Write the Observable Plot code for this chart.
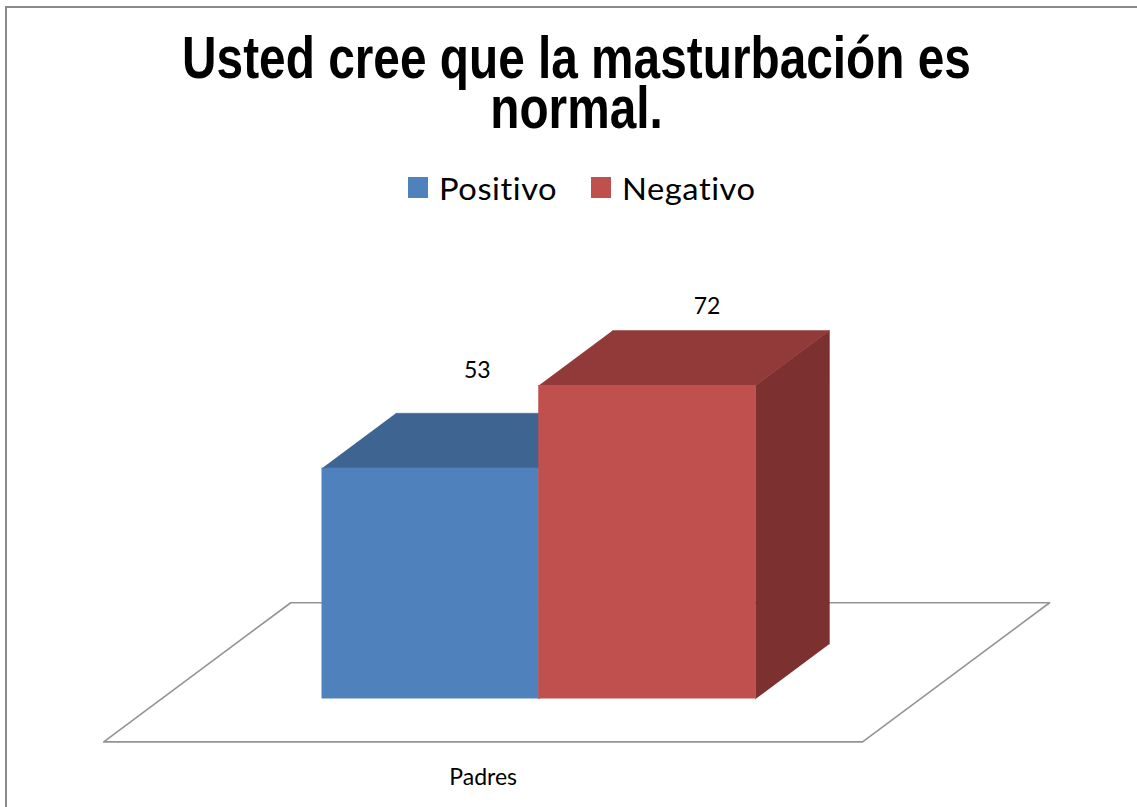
<!DOCTYPE html>
<html>
<head>
<meta charset="utf-8">
<script src="https://cdn.jsdelivr.net/npm/d3@7"></script>
<script src="https://cdn.jsdelivr.net/npm/@observablehq/plot@0.6"></script>
<style>
  html, body { margin: 0; padding: 0; background: #fff; overflow: hidden; width: 1137px; height: 807px; }
  #wrap { position: relative; width: 1137px; height: 807px; overflow: hidden; background: #fff; contain: paint; }
  #frame { position: absolute; left: 5px; top: 6px; right: -60px; bottom: -60px;
           border-left: 2px solid #8a8a8a; border-top: 2px solid #8a8a8a; border-right: none; border-bottom: none; }
  #chart { position: absolute; left: 0; top: 0; }
  .title { position: absolute; left: 5px; width: 1143px; height: 50px; text-align: center;
           font-family: "Liberation Sans", Arial, sans-serif; font-weight: bold; font-size: 59px;
           line-height: 50px; color: #000; white-space: nowrap; transform: scaleX(0.81); transform-origin: 50% 0; }
  .leg { position: absolute; top: 173px; font-family: Lato, "Noto Sans", sans-serif; font-size: 30px;
         line-height: 30px; color: #000; white-space: nowrap; letter-spacing: 0.5px;
         transform: scaleX(1.09); transform-origin: 0 0; }
  .sw { position: absolute; top: 177px; width: 20px; height: 21px; }
</style>
</head>
<body>
<div id="wrap">
  <div id="frame"></div>
  <div id="chart"></div>
  <div class="title" style="top:33px">Usted cree que la masturbación es</div>
  <div class="title" style="top:83px">normal.</div>
  <div id="legend"></div>
</div>
<script>
// ---- data ----
const categories = ["Padres"];
const series = ["Positivo", "Negativo"];
const values = [53, 72];

// ---- styles ----
const frontColors = ["#4F81BD", "#C0504D"];
const topColors = ["#3E6491", "#913A39"];
const sideColors = ["#33527A", "#7C3030"];

// oblique depth projection (one bar depth) in scale units
const kx = 74 / 217;     // depth -> x units
const ky = 55 / 4.354;   // depth -> value units
const floorX = [-0.741, 2.76];
const floorD = [-0.78, 1.75];

const rows = series.map((s, i) => ({series: s, value: values[i], x0: i, x1: i + 1, i}));
const proj = (x, d, v) => ({px: x + d * kx, py: v + d * ky});

const floor = [
  [floorX[0], floorD[0]], [floorX[1], floorD[0]], [floorX[1], floorD[1]], [floorX[0], floorD[1]], [floorX[0], floorD[0]]
].map(([x, d]) => proj(x, d, 0));

const tops = rows.map(r => [[r.x0, 0], [r.x1, 0], [r.x1, 1], [r.x0, 1]].map(([x, d]) => proj(x, d, r.value)));
const sides = rows.map(r => [[0, 0], [0, r.value], [1, r.value], [1, 0]].map(([d, v]) => proj(r.x1, d, v)));

const marks = [
  Plot.line(floor, {x: "px", y: "py", fill: "#fff", stroke: "#949494", strokeWidth: 1.6}),
  ...sides.map((pts, i) => Plot.line(pts, {x: "px", y: "py", fill: sideColors[i], stroke: sideColors[i], strokeWidth: 0.5})),
  ...tops.map((pts, i) => Plot.line(pts, {x: "px", y: "py", fill: topColors[i], stroke: topColors[i], strokeWidth: 0.5})),
  Plot.rect(rows, {x1: "x0", x2: "x1", y1: () => 0, y2: "value", fill: "series"}),
  Plot.text(rows.filter(r => r.i === 0), {x: r => r.x0 + 0.5, y: "value", text: r => String(r.value), dx: 47, dy: -90,
    lineAnchor: "bottom", fontFamily: "Lato, sans-serif", fontSize: 23, fill: "#000"}),
  Plot.text(rows.filter(r => r.i === 1), {x: r => r.x0 + 0.5, y: "value", text: r => String(r.value), dx: 60, dy: -72,
    lineAnchor: "bottom", fontFamily: "Lato, sans-serif", fontSize: 23, fill: "#000"}),
  Plot.text(categories, {x: () => (floorX[0] + floorX[1]) / 2 + floorD[0] * kx, y: () => floorD[0] * ky, text: d => d,
    dy: 43, lineAnchor: "bottom", fontFamily: "Lato, sans-serif", fontSize: 23, fill: "#000"})
];

const chart = Plot.plot({
  width: 1137,
  height: 807,
  margin: 0,
  x: {type: "linear", domain: [0, 2], range: [321.5, 755], axis: null},
  y: {type: "linear", domain: [0, 72], range: [698.5, 385], axis: null},
  color: {domain: series, range: frontColors},
  style: {background: "transparent", overflow: "visible"},
  marks
});
document.getElementById("chart").appendChild(chart);

// legend
const legend = document.getElementById("legend");
const legendLeft = [408, 591];
series.forEach((s, i) => {
  const sw = document.createElement("div");
  sw.className = "sw";
  sw.style.left = legendLeft[i] + "px";
  sw.style.background = frontColors[i];
  legend.appendChild(sw);
  const t = document.createElement("div");
  t.className = "leg";
  t.style.left = (legendLeft[i] + 31) + "px";
  t.textContent = s;
  legend.appendChild(t);
});
</script>
</body>
</html>
